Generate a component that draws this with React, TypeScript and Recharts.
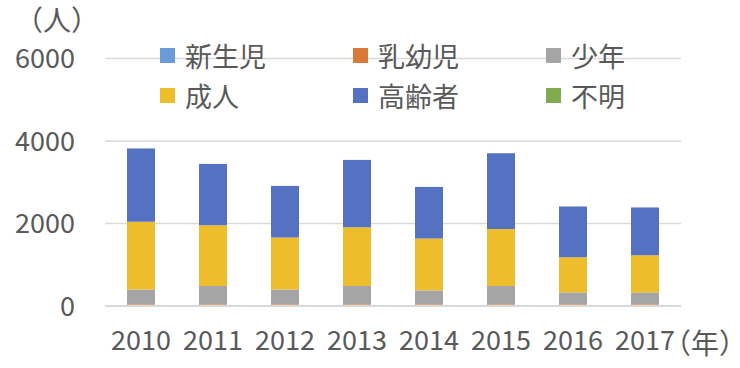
import React from "react";
import {
  BarChart,
  Bar,
  XAxis,
  YAxis,
  CartesianGrid,
  Legend,
  Label,
} from "recharts";

const years = ["2010", "2011", "2012", "2013", "2014", "2015", "2016", "2017"];
const newborn = [5, 5, 5, 5, 5, 5, 5, 5];
const infant = [35, 35, 35, 35, 35, 35, 35, 35];
const juvenile = [360, 445, 360, 445, 340, 445, 290, 290];
const adult = [1640, 1470, 1260, 1425, 1255, 1380, 850, 900];
const elderly = [1780, 1490, 1250, 1630, 1250, 1840, 1230, 1160];
const unknown = [3, 3, 3, 3, 3, 3, 3, 3];
const yTicks = [0, 2000, 4000, 6000];

const series = [
  { key: "newborn", name: "新生児", color: "#6A9BD8", values: newborn },
  { key: "infant", name: "乳幼児", color: "#DB7A38", values: infant },
  { key: "juvenile", name: "少年", color: "#A5A5A5", values: juvenile },
  { key: "adult", name: "成人", color: "#EDBD2C", values: adult },
  { key: "elderly", name: "高齢者", color: "#5572C2", values: elderly },
  { key: "unknown", name: "不明", color: "#7DAB4E", values: unknown },
];

const data = years.map((year, i) => {
  const row: Record<string, string | number> = { year };
  series.forEach((s) => {
    row[s.key] = s.values[i];
  });
  return row;
});

const FONT = '"Noto Sans CJK JP", "Noto Sans", sans-serif';
const TEXT = "#595959";

// items are absolutely placed so the legend takes no room from the plot
function LegendBox() {
  return (
    <div style={{ position: "relative", width: 740, height: 0 }}>
      {series.map((s, i) => {
        const col = i % 3;
        const row = Math.floor(i / 3);
        return (
          <div
            key={s.key}
            style={{
              position: "absolute",
              left: 160 + col * 193,
              top: 55 + row * 40 - 20,
              height: 40,
              display: "flex",
              alignItems: "center",
              fontFamily: FONT,
              fontSize: 27,
              color: TEXT,
              whiteSpace: "nowrap",
            }}
          >
            <span
              style={{
                display: "inline-block",
                width: 15,
                height: 15,
                background: s.color,
                marginRight: 10,
              }}
            />
            {s.name}
          </div>
        );
      })}
    </div>
  );
}

export default function App() {
  return (
    <div style={{ position: "absolute", left: 0, top: 0, background: "#fff" }}>
      <BarChart
        width={740}
        height={368}
        data={data}
        barSize={28}
        margin={{ top: 58.5, right: 59, left: 10, bottom: 12 }}
      >
        <CartesianGrid vertical={false} stroke="#d9d9d9" strokeWidth={1.3} />
        <XAxis
          dataKey="year"
          height={50}
          axisLine={{ stroke: "#d9d9d9", strokeWidth: 2 }}
          tickLine={false}
          tickMargin={19}
          tick={{ fill: TEXT, fontSize: 27, fontFamily: FONT }}
          interval={0}
        >
          <Label
            content={({ viewBox }: any) => (
              <text
                x={viewBox.x + viewBox.width - 18}
                y={viewBox.y + 48}
                fill={TEXT}
                fontSize={28}
                fontFamily={FONT}
              >
                （年）
              </text>
            )}
          />
        </XAxis>
        <YAxis
          width={95}
          domain={[0, 6000]}
          ticks={yTicks}
          axisLine={false}
          tickLine={false}
          tickMargin={24}
          tick={{ fill: TEXT, fontSize: 27, fontFamily: FONT }}
        >
          <Label
            content={() => (
              <text x={15} y={31} fill={TEXT} fontSize={28} fontFamily={FONT}>
                （人）
              </text>
            )}
          />
        </YAxis>
        <Legend
          content={() => <LegendBox />}
          wrapperStyle={{ position: "absolute", left: 0, top: 0, width: 740, height: 0 }}
        />
        {series.map((s) => (
          <Bar
            key={s.key}
            dataKey={s.key}
            name={s.name}
            stackId="a"
            fill={s.color}
            isAnimationActive={false}
          />
        ))}
      </BarChart>
    </div>
  );
}
